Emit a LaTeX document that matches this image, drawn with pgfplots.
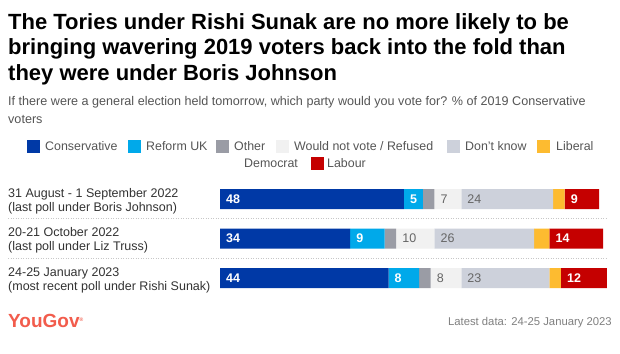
\documentclass[border=0pt]{standalone}
\usepackage{pgfplots}
\pgfplotsset{compat=1.18}
\usepackage{pgfplotstable}
\usepackage{fontspec}
\setmainfont{Liberation Sans}
\definecolor{con}{HTML}{0039A6}
\definecolor{ref}{HTML}{00A9EA}
\definecolor{oth}{HTML}{9A9CA5}
\definecolor{wnv}{HTML}{F1F1F1}
\definecolor{dk}{HTML}{CDD1DB}
\definecolor{ld}{HTML}{FDBB30}
\definecolor{lab}{HTML}{C50000}
\definecolor{txt}{HTML}{333333}
\definecolor{sub}{HTML}{555555}
\definecolor{lbl}{HTML}{666666}
\definecolor{yg}{HTML}{F25C4C}
% shares (%) per poll
\pgfplotstableread{
row con ref oth wnv dk ld lab
0 48 5 3 7 24 3 9
1 34 9 3 10 26 4 14
2 44 8 3 8 23 3 12
}\data
% value labels: x = start of the segment they sit in
\pgfplotstableread{
x row lbl
0 0 48
48 0 5
90 0 9
0 1 34
34 1 9
86 1 14
0 2 44
44 2 8
89 2 12
}\whitelabels
\pgfplotstableread{
x row lbl
56 0 7
63 0 24
46 1 10
56 1 26
55 2 8
63 2 23
}\graylabels
\pgfplotsset{geom/.style={at={(220pt,-179.25pt)},anchor=north west,scale only axis,
  width=383pt,height=118.5pt,xmin=0,xmax=100,ymin=-0.5,ymax=2.5,
  y dir=reverse,hide axis,clip=false}}
\begin{document}
\begin{tikzpicture}
\path[use as bounding box,fill=white] (0,0) rectangle (620pt,-353pt);
% title
\begin{scope}[every node/.style={anchor=base west,inner sep=0,font=\fontsize{22}{25}\selectfont\bfseries}]
\node at (8pt,-30pt) {The Tories under Rishi Sunak are no more likely to be};
\node at (8pt,-55pt) {bringing wavering 2019 voters back into the fold than};
\node at (8pt,-80pt) {they were under Boris Johnson};
\end{scope}
\begin{scope}[every node/.style={anchor=base west,inner sep=0,text=sub,font=\fontsize{12.6}{14}\selectfont}]
\node at (8pt,-105pt) {If there were a general election held tomorrow, which party would you vote for? \% of 2019 Conservative};
\node at (8pt,-123pt) {voters};
\end{scope}
% legend
\begin{scope}[every node/.style={anchor=base west,inner sep=0,text=sub,font=\fontsize{12.4}{14}\selectfont}]
\fill[con] (27pt,-139.5pt) rectangle ++(13pt,-13pt);
\node at (45pt,-150.5pt) {Conservative};
\fill[ref] (128pt,-139.5pt) rectangle ++(13pt,-13pt);
\node at (146pt,-150.5pt) {Reform UK};
\fill[oth] (216pt,-139.5pt) rectangle ++(13pt,-13pt);
\node at (234pt,-150.5pt) {Other};
\fill[wnv] (276pt,-139.5pt) rectangle ++(13pt,-13pt);
\node at (294pt,-150.5pt) {Would not vote / Refused};
\fill[dk] (447pt,-139.5pt) rectangle ++(13pt,-13pt);
\node at (465pt,-150.5pt) {Don’t know};
\fill[ld] (537pt,-139.5pt) rectangle ++(13pt,-13pt);
\node at (556pt,-150.5pt) {Liberal};
\node at (244pt,-167.5pt) {Democrat};
\fill[lab] (311pt,-156.5pt) rectangle ++(13pt,-13pt);
\node at (327pt,-167.5pt) {Labour};
\end{scope}
% category labels
\begin{scope}[every node/.style={anchor=base west,inner sep=0,text=txt,font=\fontsize{12.5}{14}\selectfont}]
\node at (8pt,-197pt) {31 August - 1 September 2022};
\node at (8pt,-211pt) {(last poll under Boris Johnson)};
\node at (8pt,-236.5pt) {20-21 October 2022};
\node at (8pt,-250.5pt) {(last poll under Liz Truss)};
\node at (8pt,-276pt) {24-25 January 2023};
\node at (8pt,-290pt) {(most recent poll under Rishi Sunak)};
\end{scope}
\draw[black!22,line width=0.6pt,dash pattern=on 1pt off 1.5pt] (8pt,-218.5pt) -- (606pt,-218.5pt);
\draw[black!22,line width=0.6pt,dash pattern=on 1pt off 1.5pt] (8pt,-258.5pt) -- (606pt,-258.5pt);
\begin{axis}[geom,xbar stacked,bar width=20pt]
\addplot[fill=con,draw=none] table[x=con,y=row]\data;
\addplot[fill=ref,draw=none] table[x=ref,y=row]\data;
\addplot[fill=oth,draw=none] table[x=oth,y=row]\data;
\addplot[fill=wnv,draw=none] table[x=wnv,y=row]\data;
\addplot[fill=dk,draw=none] table[x=dk,y=row]\data;
\addplot[fill=ld,draw=none] table[x=ld,y=row]\data;
\addplot[fill=lab,draw=none] table[x=lab,y=row]\data;
\end{axis}
\begin{axis}[geom]
\addplot[draw=none,mark=none,nodes near coords={\pgfplotspointmeta},point meta=explicit symbolic,
  every node near coord/.style={anchor=west,inner sep=0pt,xshift=6pt,text=white,font=\fontsize{12.5}{14}\selectfont\bfseries}]
  table[x=x,y=row,meta=lbl]\whitelabels;
\addplot[draw=none,mark=none,nodes near coords={\pgfplotspointmeta},point meta=explicit symbolic,
  every node near coord/.style={anchor=west,inner sep=0pt,xshift=6pt,text=lbl,font=\fontsize{12.5}{14}\selectfont}]
  table[x=x,y=row,meta=lbl]\graylabels;
\end{axis}
% footer
\node[anchor=base west,inner sep=0,text=yg,font=\fontsize{19}{20}\selectfont\bfseries] at (8pt,-327.5pt) {YouGov\textsuperscript{\fontsize{5}{5}\selectfont ®}};
\node[anchor=base east,inner sep=0,text=black!50,font=\fontsize{11.3}{14}\selectfont] at (612pt,-325pt) {Latest data: 24-25 January 2023};
\end{tikzpicture}
\end{document}
